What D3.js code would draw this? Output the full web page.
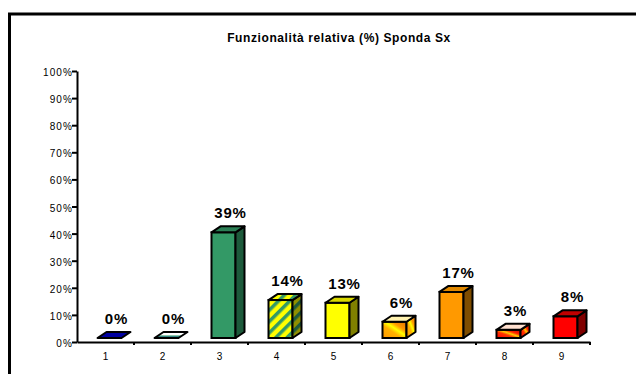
<!DOCTYPE html>
<meta charset="utf-8">
<style>
body { margin: 0; background: #fff; }
svg { display: block; font-family: "Liberation Sans", Arial, sans-serif; }
</style>
<svg id="chart" width="636" height="374"></svg>
<script src="https://cdn.jsdelivr.net/npm/d3@7/dist/d3.min.js"></script>
<script>
// data
var title = "Funzionalità relativa (%) Sponda Sx";
var categories = ["1", "2", "3", "4", "5", "6", "7", "8", "9"];
var values = [0, 0, 0.39, 0.14, 0.13, 0.06, 0.17, 0.03, 0.08];
var yTicks = [0, 0.1, 0.2, 0.3, 0.4, 0.5, 0.6, 0.7, 0.8, 0.9, 1];

// fills per bar: front, side, top
var fills = [
  ["#000080", "#000050", "#0000a0"],
  ["#ffffff", "#339966", "url(#zeroFx)"],
  ["#339966", "#1d5a3b", "#2b7f55"],
  ["url(#stripe)", "url(#stripeDark)", "url(#stripe)"],
  ["#ffff00", "#808000", "#d8d800"],
  ["url(#orangeFx)", "url(#orangeFx)", "#fff2b0"],
  ["#ff9900", "#7f4d00", "#e08800"],
  ["url(#redFx)", "url(#redFx)", "#ffe0d0"],
  ["#ff0000", "#800000", "#c00000"]
];

var svg = d3.select("#chart");
var defs = svg.append("defs");

var p = defs.append("pattern").attr("id", "stripe")
    .attr("patternUnits", "userSpaceOnUse").attr("width", 8).attr("height", 8)
    .attr("patternTransform", "rotate(-45)");
p.append("rect").attr("width", 8).attr("height", 8).attr("fill", "#ffff00");
p.append("rect").attr("width", 8).attr("height", 3.5).attr("fill", "#339966");

var p2 = defs.append("pattern").attr("id", "stripeDark")
    .attr("patternUnits", "userSpaceOnUse").attr("width", 8).attr("height", 8)
    .attr("patternTransform", "rotate(-45)");
p2.append("rect").attr("width", 8).attr("height", 8).attr("fill", "#909000");
p2.append("rect").attr("width", 8).attr("height", 3.5).attr("fill", "#1d5a3b");

function grad(id, stops, vertical) {
  var g = defs.append("linearGradient").attr("id", id)
      .attr("x1", "0").attr("y1", "1").attr("x2", vertical ? "0" : "1").attr("y2", "0");
  stops.forEach(function(s) {
    g.append("stop").attr("offset", s[0]).attr("stop-color", s[1]);
  });
}
grad("orangeFx", [[0, "#ff9900"], [0.4, "#ffb000"], [0.55, "#ffff00"], [0.7, "#ff9900"], [1, "#e07000"]]);
grad("redFx", [[0, "#ff0000"], [0.4, "#ff3300"], [0.55, "#ffcc00"], [0.7, "#ff2200"], [1, "#cc0000"]]);
grad("zeroFx", [[0, "#3355cc"], [0.35, "#339966"], [0.5, "#ffffff"], [1, "#ffffff"]], true);

// frame
svg.append("rect")
    .attr("x", 9.5).attr("y", 14)
    .attr("width", 700).attr("height", 400)
    .attr("fill", "none").attr("stroke", "#000").attr("stroke-width", 3);

svg.append("text")
    .attr("x", 339).attr("y", 42)
    .attr("text-anchor", "middle")
    .attr("font-size", "12px").attr("font-weight", "bold")
    .attr("letter-spacing", "0.6px")
    .text(title);

var x = d3.scaleBand().domain(categories).range([77, 590]).padding(0);
var y = d3.scaleLinear().domain([0, 1]).range([342, 71]);

// y axis
var yAxis = svg.append("g")
    .attr("transform", "translate(77,0)")
    .call(d3.axisLeft(y).tickValues(yTicks).tickSize(5).tickSizeOuter(0)
      .tickFormat(function(d) { return Math.round(d * 100) + "%"; }));
yAxis.select(".domain").attr("stroke", "#000").attr("stroke-width", 2);
yAxis.selectAll(".tick line").attr("stroke", "#000").attr("stroke-width", 2);
yAxis.selectAll(".tick text")
    .attr("font-family", "\"Liberation Sans\", Arial, sans-serif")
    .attr("font-size", "10px").attr("fill", "#000")
    .attr("x", -4).attr("dy", "0.45em").attr("letter-spacing", "1.1px");

// x axis
var xAxis = svg.append("g")
    .attr("transform", "translate(0,342)")
    .call(d3.axisBottom(x).tickSize(0).tickSizeOuter(0));
xAxis.select(".domain").attr("stroke", "#000").attr("stroke-width", 2);
xAxis.selectAll(".tick text")
    .attr("font-family", "\"Liberation Sans\", Arial, sans-serif")
    .attr("font-size", "10px").attr("fill", "#000").attr("y", 11);
// tick marks between categories
xAxis.selectAll(".sep")
    .data(categories)
    .enter().append("line")
    .attr("class", "sep")
    .attr("x1", function(d) { return x(d) + x.bandwidth(); })
    .attr("x2", function(d) { return x(d) + x.bandwidth(); })
    .attr("y1", 0).attr("y2", 3)
    .attr("stroke", "#000").attr("stroke-width", 2);

// 3d bars
var bw = 24, dx = 9, dy = -6, lift = 4;
var bars = svg.append("g").selectAll("g")
    .data(values).enter().append("g");

function pts(a) { return a.map(function(q) { return q.join(","); }).join(" "); }

bars.each(function(v, i) {
  var g = d3.select(this);
  var x0 = x(categories[i]) + x.bandwidth() / 2 - 8;
  var yt = y(v) - lift, yb = y(0) - lift;
  var f = fills[i];
  if (yb - yt > 0.5) {
    g.append("rect").attr("x", x0).attr("y", yt)
        .attr("width", bw).attr("height", yb - yt)
        .attr("fill", f[0]).attr("stroke", "#000").attr("stroke-width", 2);
    g.append("polygon")
        .attr("points", pts([[x0 + bw, yt], [x0 + bw + dx, yt + dy], [x0 + bw + dx, yb + dy], [x0 + bw, yb]]))
        .attr("fill", f[1]).attr("stroke", "#000").attr("stroke-width", 2)
        .attr("stroke-linejoin", "round");
  }
  g.append("polygon")
      .attr("points", pts([[x0, yt], [x0 + bw, yt], [x0 + bw + dx, yt + dy], [x0 + dx, yt + dy]]))
      .attr("fill", f[2]).attr("stroke", "#000").attr("stroke-width", 2)
      .attr("stroke-linejoin", "round");
  g.append("text")
      .attr("x", x(categories[i]) + x.bandwidth() / 2 + 11)
      .attr("y", y(v) - 18)
      .attr("text-anchor", "middle")
      .attr("font-size", "15px").attr("font-weight", "bold")
      .attr("letter-spacing", "0.8px")
      .text(Math.round(v * 100) + "%");
});
</script>
